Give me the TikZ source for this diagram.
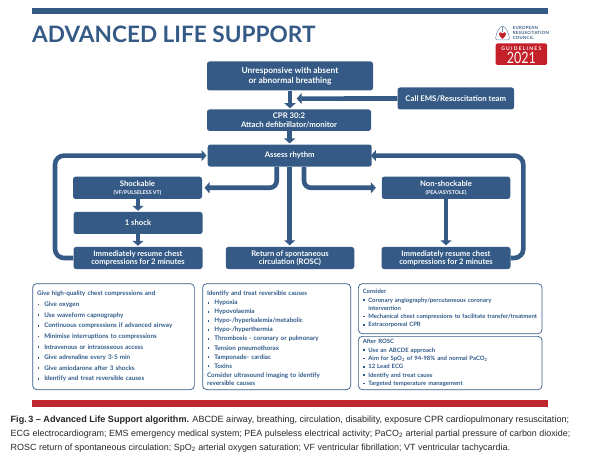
\documentclass[tikz,border=0pt]{standalone}
\usepackage{fontspec}
\setmainfont{Lato}
\newfontfamily\capfont{Liberation Sans}
\usetikzlibrary{arrows.meta,calc}
\definecolor{navy}{HTML}{345A85}
\definecolor{ink}{HTML}{2F5A88}
\definecolor{barred}{HTML}{BE2630}
\definecolor{logored}{HTML}{C4202A}
\newcommand{\itm}[1][7.4bp]{\makebox[#1][l]{\hspace{.6bp}\raisebox{1.2bp}{\rule{1.7bp}{1.7bp}}}\ignorespaces}
\newcommand{\fsz}[2]{\fontsize{#1bp}{#2bp}\selectfont}
\tikzset{
  flow/.style={fill=navy,rounded corners=2.5bp,text=white,align=center,inner sep=0pt,font=\fsz{7.7}{9.4}\bfseries},
  info/.style={draw=navy,line width=.7bp,fill=white,rounded corners=4bp,text=ink,align=left,inner xsep=4.4bp,inner ysep=0pt,anchor=north west},
  link/.style={draw=navy,line width=4.6bp,-{Triangle[width=11bp,length=5bp]}},
  loop/.style={link,rounded corners=9bp},
  capline/.style={anchor=base west,inner sep=0pt,text=black!85,font=\capfont\fsz{8.95}{10}}
}
\begin{document}
\begin{tikzpicture}[x=1bp,y=-1bp]
\useasboundingbox (0,0) rectangle (590,457);
% header
\fill[navy] (32,8.5) rectangle (548,14.5);
\node[anchor=base west,inner sep=0pt,text=navy,font=\fsz{22.6}{24}\bfseries] (title) at (32,43) {ADVANCED LIFE SUPPORT};
% logo
\draw[navy!70,line width=.5bp,rounded corners=1.5bp] (502.5,26) .. controls (499,27) and (496,33) .. (495.5,40) -- (509.5,40) .. controls (509,33) and (506,27) .. (502.5,26);
\draw[navy!70,line width=.4bp] (502.5,26) -- (502.5,32);
\fill[logored] (502.5,39) .. controls (498,35.5) and (498.5,32) .. (500.7,32.3) .. controls (501.7,32.4) and (502.3,33) .. (502.5,33.6) .. controls (502.7,33) and (503.3,32.4) .. (504.3,32.3) .. controls (506.5,32) and (507,35.5) .. (502.5,39) -- cycle;
\node[anchor=west,inner sep=0pt,text=navy,align=left,font=\fsz{4.3}{5.1}\bfseries\addfontfeatures{LetterSpace=6}] (org) at (512.7,33.3) {EUROPEAN\\RESUSCITATION\\COUNCIL};
\fill[logored,rounded corners=1.5bp] (495.5,43.5) rectangle (547,65);
\node[inner sep=0pt,text=white,font=\fsz{5}{5}\bfseries\addfontfeatures{LetterSpace=24}] (gl) at (521.3,48.3) {GUIDELINES};
\node[inner sep=0pt,text=white,font=\fsz{14.5}{15}] (yr) at (521.3,57.8) {\resizebox{29bp}{11.4bp}{2021}};
% flow boxes
\node[flow,minimum width=166bp,minimum height=29bp,font=\fsz{8.4}{10.2}\bfseries] (unresp) at (290,76) {Unresponsive with absent\\or abnormal breathing};
\node[flow,minimum width=164bp,minimum height=21.5bp,font=\fsz{7.8}{8.8}\bfseries] (cpr) at (289,120.2) {CPR 30:2\\Attach defibrillator/monitor};
\node[flow,minimum width=116.5bp,minimum height=22bp,font=\fsz{7.8}{8.8}\bfseries] (call) at (455.8,98.5) {Call EMS/Resuscitation team};
\node[flow,minimum width=164bp,minimum height=22bp] (assess) at (289.7,155.6) {Assess rhythm};
\node[flow,minimum width=129bp,minimum height=22.3bp] (shock) at (137.5,187.8) {Shockable\\[-1.5bp]{\fsz{5.3}{5.5}(VF/PULSELESS VT)}};
\node[flow,minimum width=129bp,minimum height=22bp] (one) at (138,223) {1 shock};
\node[flow,minimum width=129bp,minimum height=22bp,font=\fsz{7.65}{8.4}\bfseries] (resumel) at (138,258) {Immediately resume chest\\compressions for 2 minutes};
\node[flow,minimum width=128.5bp,minimum height=22bp,font=\fsz{7.65}{8.4}\bfseries] (rosc) at (290,258) {Return of spontaneous\\circulation (ROSC)};
\node[flow,minimum width=128.5bp,minimum height=22.3bp] (nonshock) at (446,187.8) {Non-shockable\\[-1.5bp]{\fsz{5.3}{5.5}(PEA/ASYSTOLE)}};
\node[flow,minimum width=129bp,minimum height=22bp,font=\fsz{7.65}{8.4}\bfseries] (resumer) at (446,258) {Immediately resume chest\\compressions for 2 minutes};
% connectors
\coordinate (callend) at (296.7,98.6);
\draw[link] (call.west) -- (callend);
\draw[link,shorten >=1bp] (unresp.south) -- (unresp.south |- cpr.north);
\draw[link,shorten >=1bp] (cpr.south -| assess.north) -- (assess.north);
\draw[link,shorten >=1.5bp] (assess.south) -- (assess.south |- rosc.north);
\draw[link,rounded corners=7bp,shorten >=2.3bp] ($(assess.south)+(-13,0)$) |- (shock.east);
\draw[link,rounded corners=7bp,shorten >=5.7bp] ($(assess.south)+(14.3,0)$) |- (nonshock.west);
\draw[link,shorten >=1bp] (shock.south -| one.north) -- (one.north);
\draw[link,shorten >=1bp] (one.south) -- (one.south |- resumel.north);
\draw[link,shorten >=1.5bp] (nonshock.south) -- (nonshock.south |- resumer.north);
\coordinate (leftx) at (55,200);
\coordinate (rightx) at (523.3,200);
\draw[loop,shorten >=1bp] (resumel.west) -| (leftx) |- (assess.west);
\draw[loop,shorten >=-1bp] (resumer.east) -| (rightx) |- (assess.east);
% information boxes
\node[info,text width=152.9bp,minimum height=106bp,font=\fsz{6.3}{10.62}\bfseries] (care) at (32.3,283.3) {Give high-quality chest compressions and\\
\itm[7.2bp] Give oxygen\\
\itm[7.2bp] Use waveform capnography\\
\itm[7.2bp] Continuous compressions if advanced airway\\
\itm[7.2bp] Minimise interruptions to compressions\\
\itm[7.2bp] Intravenous or intraosseous access\\
\itm[7.2bp] Give adrenaline every 3-5 min\\
\itm[7.2bp] Give amiodarone after 3 shocks\\
\itm[7.2bp] Identify and treat reversible causes};
\node[info,text width=139.2bp,minimum height=106bp,font=\fsz{6.3}{9.05}\bfseries] (causes) at (202.3,283.3) {\rule{0pt}{8bp}Identify and treat reversible causes\\
\itm[7.3bp] Hypoxia\\
\itm[7.3bp] Hypovolaemia\\
\itm[7.3bp] Hypo-/hyperkalemia/metabolic\\
\itm[7.3bp] Hypo-/hyperthermia\\
\itm[7.3bp] Thrombosis - coronary or pulmonary\\
\itm[7.3bp] Tension pneumothorax\\
\itm[7.3bp] Tamponade- cardiac\\
\itm[7.3bp] Toxins\\
Consider ultrasound imaging to identify\\[-.7bp]
reversible causes};
\node[info,text width=174.9bp,minimum height=50bp,font=\fsz{5.95}{8.4}\bfseries] (consider) at (358,283.3) {Consider\\
\itm[5.6bp] Coronary angiography/percutaneous coronary\\[-.7bp]
\hspace*{5.6bp}intervention\\
\mbox{\itm[5.6bp] Mechanical chest compressions to facilitate transfer/treatment}\\
\itm[5.6bp] Extracorporeal CPR};
\node[info,text width=174.9bp,minimum height=53.3bp,font=\fsz{5.95}{8.4}\bfseries] (after) at (358,336) {After ROSC\\
\itm[5.6bp] Use an ABCDE approach\\
\itm[5.6bp] Aim for SpO\textsubscript{2} of 94-98\% and normal PaCO\textsubscript{2}\\
\itm[5.6bp] 12 Lead ECG\\
\itm[5.6bp] Identify and treat cause\\
\itm[5.6bp] Targeted temperature management};
% caption
\fill[barred] (32,400) rectangle (548,406.5);
\node[capline,font=\capfont\fsz{9.07}{10}] (cap1) at (10.5,422.3) {\textbf{Fig.\,3 – Advanced Life Support algorithm.} ABCDE airway, breathing, circulation, disability, exposure CPR cardiopulmonary resuscitation;};
\node[capline] (cap2) at (10.5,436) {ECG electrocardiogram; EMS emergency medical system; PEA pulseless electrical activity; PaCO\textsubscript{2} arterial partial pressure of carbon dioxide;};
\node[capline] (cap3) at (10.5,450) {ROSC return of spontaneous circulation; SpO\textsubscript{2} arterial oxygen saturation; VF ventricular fibrillation; VT ventricular tachycardia.};
\end{tikzpicture}
\end{document}
